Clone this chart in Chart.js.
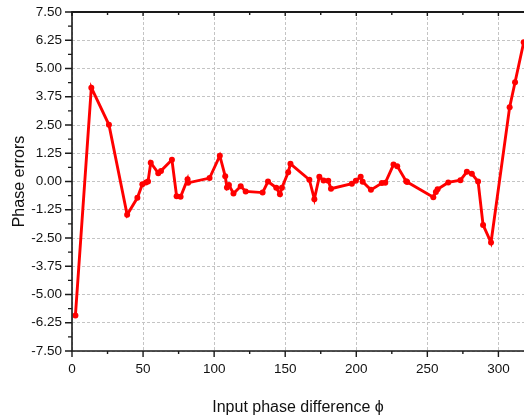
<!DOCTYPE html>
<html>
<head>
<meta charset="utf-8">
<script src="https://cdn.jsdelivr.net/npm/chart.js@4/dist/chart.umd.min.js"></script>
<style>
html,body{margin:0;padding:0;background:#fff;overflow:hidden;}
#wrap{width:527px;height:417px;position:relative;}
</style>
</head>
<body>
<div id="wrap"><canvas id="c" width="527" height="417"></canvas></div>
<script>
const phaseDiff = [2.4,13.6,26,38.8,46,49.5,52,53.5,55.4,60.7,62.6,70.3,73.6,76.4,81.3,81.7,96.8,104,107.8,109,110.4,113.6,118.7,122.2,134.1,137.9,143.7,146.3,147.7,152.1,153.7,167,170.5,174,177,180.3,182.2,196.9,199.7,203.1,204.5,210.3,218,220.4,226.2,228.8,235.1,235.8,254.2,256,257.2,264.7,273.3,277.8,281.3,285.7,289.2,294.8,307.9,311.7,317.8];
const phaseErr = [-5.93,4.15,2.51,-1.47,-0.72,-0.12,-0.04,0.0,0.83,0.37,0.47,0.96,-0.65,-0.68,0.1,-0.06,0.15,1.14,0.23,-0.27,-0.15,-0.53,-0.21,-0.44,-0.49,0.0,-0.28,-0.56,-0.28,0.41,0.78,0.08,-0.78,0.21,0.04,0.03,-0.32,-0.1,0.03,0.21,-0.01,-0.37,-0.07,-0.06,0.75,0.68,0.01,-0.02,-0.7,-0.46,-0.34,-0.04,0.06,0.43,0.34,0.0,-1.92,-2.7,3.29,4.39,6.16];
const xTicks = [0,50,100,150,200,250,300];
const xMinorTicks = [25,75,125,175,225,275];
const yTicks = [-7.5,-6.25,-5,-3.75,-2.5,-1.25,0,1.25,2.5,3.75,5,6.25,7.5];
const yMinorTicks = [-6.875,-5.625,-4.375,-3.125,-1.875,-0.625,0.625,1.875,3.125,4.375,5.625,6.875];

const points = phaseDiff.map((x,i)=>({x:x,y:phaseErr[i]}));

const framePlugin = {
  id:'frame',
  afterDatasetsDraw(chart){
    const ctx = chart.ctx, a = chart.chartArea;
    const xs = chart.scales.x, ys = chart.scales.y;
    ctx.save();
    ctx.strokeStyle = '#1a1a1a';
    ctx.lineCap = 'butt';
    ctx.lineWidth = 1.6;
    ctx.beginPath();
    ctx.moveTo(a.left, a.top); ctx.lineTo(a.left, a.bottom);
    ctx.moveTo(a.left-0.8, a.bottom); ctx.lineTo(a.right, a.bottom);
    ctx.stroke();
    ctx.lineWidth = 2;
    ctx.beginPath();
    ctx.moveTo(a.left-0.8, a.top); ctx.lineTo(a.right, a.top);
    ctx.stroke();
    ctx.lineWidth = 1.4;
    ctx.beginPath();
    yTicks.forEach(v=>{const y=ys.getPixelForValue(v); ctx.moveTo(a.left-7,y); ctx.lineTo(a.left,y);});
    yMinorTicks.forEach(v=>{const y=ys.getPixelForValue(v); ctx.moveTo(a.left-4,y); ctx.lineTo(a.left,y);});
    xTicks.forEach(v=>{const x=xs.getPixelForValue(v); ctx.moveTo(x,a.bottom); ctx.lineTo(x,a.bottom+6); ctx.moveTo(x,a.top); ctx.lineTo(x,a.top+4);});
    xMinorTicks.forEach(v=>{const x=xs.getPixelForValue(v); ctx.moveTo(x,a.bottom); ctx.lineTo(x,a.bottom+3); ctx.moveTo(x,a.top); ctx.lineTo(x,a.top+3);});
    ctx.stroke();
    ctx.restore();
  }
};

new Chart(document.getElementById('c'), {
  type:'line',
  data:{datasets:[{
    data:points,
    borderColor:'#ff0000',
    backgroundColor:'#ff0000',
    borderWidth:2.9,
    pointRadius:3,
    pointHoverRadius:3,
    pointBorderWidth:0,
    tension:0,
    fill:false
  }]},
  options:{
    responsive:false,
    animation:false,
    events:[],
    layout:{padding:{top:12,right:0,left:0,bottom:0}},
    plugins:{legend:{display:false},tooltip:{enabled:false}},
    scales:{
      x:{
        type:'linear', min:0, max:318,
        afterBuildTicks:(s)=>{s.ticks = xTicks.map(v=>({value:v}));},
        afterFit:(s)=>{s.height = 66; s.paddingLeft = 0; s.paddingRight = 0;},
        border:{display:false, dash:[3,2]},
        grid:{color:'#c4c4c4', lineWidth:1, drawTicks:false},
        ticks:{color:'#111', padding:10, maxRotation:0, font:{family:'Liberation Sans, Arial, sans-serif', size:13.5}, callback:(v)=>String(v)},
        title:{display:true, text:'Input phase difference \u03d5', color:'#111', font:{family:'Liberation Sans, Arial, sans-serif', size:16}, padding:{top:0,bottom:0}}
      },
      y:{
        type:'linear', min:-7.5, max:7.5,
        afterBuildTicks:(s)=>{s.ticks = yTicks.map(v=>({value:v}));},
        afterFit:(s)=>{s.width = 72; s.paddingTop = 0; s.paddingBottom = 0;},
        border:{display:false, dash:[3,2]},
        grid:{color:'#c4c4c4', lineWidth:1, drawTicks:false},
        ticks:{color:'#111', padding:10, font:{family:'Liberation Sans, Arial, sans-serif', size:13.5}, callback:(v)=>v.toFixed(2)},
        title:{display:true, text:'Phase errors', color:'#111', font:{family:'Liberation Sans, Arial, sans-serif', size:16}, padding:{top:10,bottom:0}}
      }
    }
  },
  plugins:[framePlugin]
});
</script>
</body>
</html>
